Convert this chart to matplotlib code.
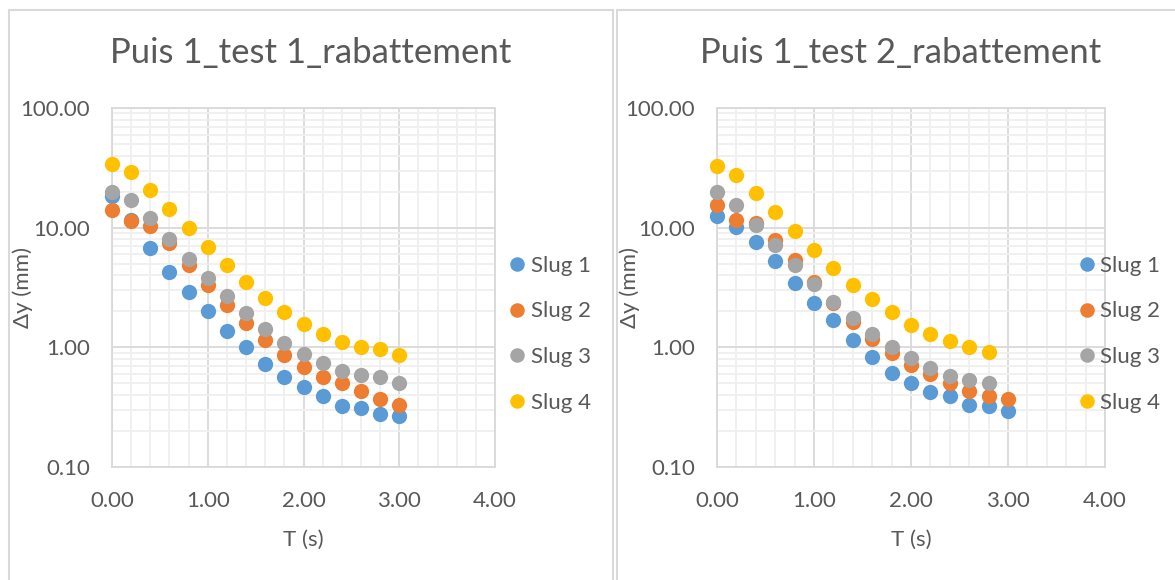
import numpy as np
import matplotlib.pyplot as plt
from matplotlib.patches import Rectangle
from matplotlib.ticker import FixedLocator, LogLocator, NullFormatter, FuncFormatter

# Temps (s)
t_test1 = [0.0, 0.2, 0.4, 0.6, 0.8, 1.0, 1.2, 1.4, 1.6, 1.8, 2.0, 2.2, 2.4, 2.6, 2.8, 3.0]
t_test2 = [0.0, 0.2, 0.4, 0.6, 0.8, 1.0, 1.2, 1.4, 1.6, 1.8, 2.0, 2.2, 2.4, 2.6, 2.8, 3.0]

# Rabattement (mm) - test 1
test1_slug1 = [18.3, 11.7, 6.76, 4.29, 2.90, 2.00, 1.38, 1.00, 0.73, 0.565, 0.467, 0.395, 0.326, 0.311, 0.277, 0.268]
test1_slug2 = [14.1, 11.3, 10.4, 7.45, 4.91, 3.34, 2.27, 1.60, 1.16, 0.87, 0.685, 0.565, 0.50, 0.435, 0.37, 0.33]
test1_slug3 = [20.0, 17.0, 12.0, 8.09, 5.51, 3.80, 2.67, 1.94, 1.42, 1.09, 0.88, 0.74, 0.64, 0.59, 0.565, 0.50]
test1_slug4 = [33.8, 29.2, 20.8, 14.3, 9.87, 6.89, 4.84, 3.52, 2.60, 1.99, 1.58, 1.29, 1.10, 1.01, 0.96, 0.87]

# Rabattement (mm) - test 2 (slugs 3 et 4 s'arretent a 2.8 s)
test2_slug1 = [12.6, 10.1, 7.64, 5.23, 3.45, 2.36, 1.68, 1.16, 0.836, 0.614, 0.50, 0.424, 0.39, 0.33, 0.321, 0.294]
test2_slug2 = [15.4, 11.5, 10.9, 7.94, 5.33, 3.49, 2.35, 1.63, 1.17, 0.90, 0.71, 0.60, 0.50, 0.435, 0.395, 0.367]
test2_slug3 = [19.7, 15.4, 10.6, 7.17, 4.88, 3.40, 2.41, 1.75, 1.29, 1.01, 0.81, 0.676, 0.58, 0.537, 0.50]
test2_slug4 = [33.0, 27.6, 19.4, 13.4, 9.32, 6.51, 4.60, 3.34, 2.52, 1.96, 1.54, 1.29, 1.14, 1.01, 0.91]

noms = ["Slug 1", "Slug 2", "Slug 3", "Slug 4"]
couleurs = ["#5B9BD5", "#ED7D31", "#A5A5A5", "#FFC000"]
gris_texte = "#595959"

plt.rcParams['font.family'] = ['Lato', 'DejaVu Sans']

W, H = 1175, 580
fig = plt.figure(figsize=(W / 100, H / 100), dpi=100)

# cadres des deux graphiques (en pixels, origine en haut a gauche)
for x0, x1 in [(9, 613), (617, 1190)]:
    fig.patches.append(Rectangle((x0 / W, -0.1), (x1 - x0) / W, 1.1 - 10 / H,
                                 transform=fig.transFigure, fill=False,
                                 edgecolor="#D9D9D9", linewidth=1.5))


def tracer(ax, t, series, titre, cx_titre, leg_x, ylab_x):
    for i, y in enumerate(series):
        ax.plot(t[:len(y)], y, 'o', color=couleurs[i], markersize=11,
                markeredgewidth=0, label=noms[i], clip_on=False, zorder=3)
    ax.set_yscale('log')
    ax.set_xlim(0, 4)
    ax.set_ylim(0.1, 100)
    ax.xaxis.set_major_locator(FixedLocator([0, 1, 2, 3, 4]))
    ax.xaxis.set_minor_locator(FixedLocator(np.arange(0, 4.01, 0.2)))
    ax.yaxis.set_major_locator(LogLocator(base=10))
    ax.yaxis.set_minor_locator(LogLocator(base=10, subs=np.arange(2, 10)))
    ax.yaxis.set_minor_formatter(NullFormatter())
    ax.xaxis.set_major_formatter(FuncFormatter(lambda v, p: f"{v:.2f}"))
    ax.yaxis.set_major_formatter(FuncFormatter(lambda v, p: f"{v:.2f}"))
    ax.grid(which='major', color="#D9D9D9", linewidth=1.3, zorder=1)
    ax.grid(which='minor', color="#EFEFEF", linewidth=1.3, zorder=0)
    ax.set_axisbelow(True)
    for s in ax.spines.values():
        s.set_color("#D9D9D9")
        s.set_linewidth(1.3)
    ax.tick_params(which='both', length=0, colors=gris_texte, labelsize=16)
    ax.tick_params(axis='x', pad=17)
    ax.tick_params(axis='y', pad=16)
    ax.set_xlabel("T (s)", fontsize=16, color=gris_texte, labelpad=14)
    ax.set_ylabel("Δy (mm)", fontsize=16, color=gris_texte)
    ax.yaxis.set_label_coords(ylab_x, 0.5)
    fig.text(cx_titre, 1 - 53 / H, titre, fontsize=25, color=gris_texte,
             ha='center', va='center')
    ax.legend(loc='center left', bbox_to_anchor=(leg_x, 0.37), frameon=False,
              fontsize=16, labelcolor=gris_texte, handlelength=1.0,
              handletextpad=0.1, labelspacing=1.15, markerscale=0.95,
              borderpad=0, borderaxespad=0)


ax1 = fig.add_axes([112 / W, 113 / H, 383 / W, 359 / H])
tracer(ax1, t_test1, [test1_slug1, test1_slug2, test1_slug3, test1_slug4],
       "Puis 1_test 1_rabattement", 311 / W, 1.029, -0.206)

ax2 = fig.add_axes([717 / W, 113 / H, 388 / W, 359 / H])
tracer(ax2, t_test2, [test2_slug1, test2_slug2, test2_slug3, test2_slug4],
       "Puis 1_test 2_rabattement", 901 / W, 0.925, -0.198)

fig.savefig("out.png", dpi=100)
